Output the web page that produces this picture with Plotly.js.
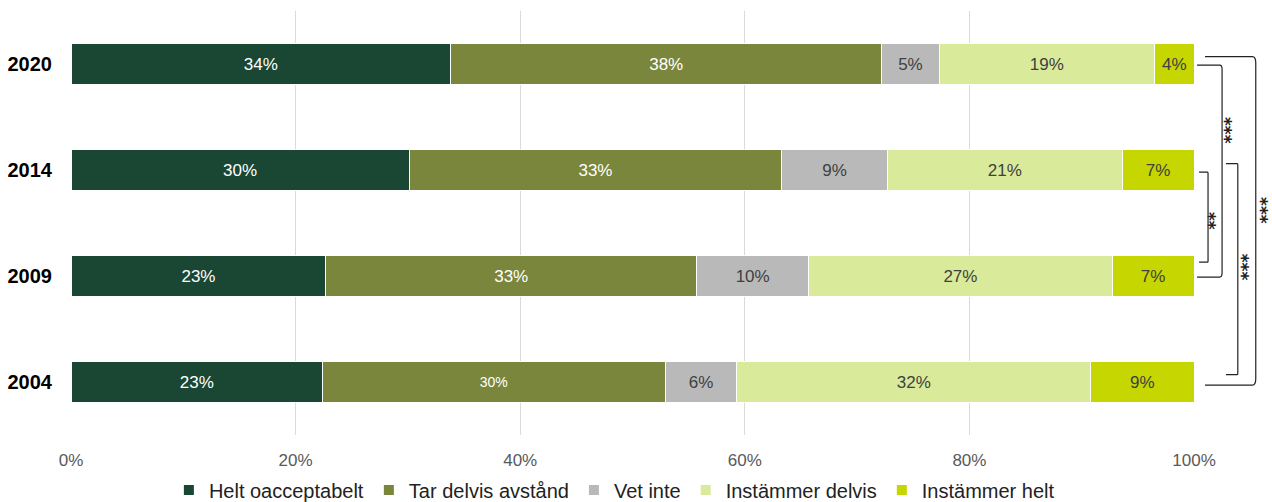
<!DOCTYPE html>
<html>
<head>
<meta charset="utf-8">
<script src="https://cdn.plot.ly/plotly-3.0.1.min.js"></script>
<style>html,body{margin:0;padding:0;background:#fff;}#chart{width:1272px;height:502px;}</style>
</head>
<body>
<div id="chart"></div>
<script>
const years = ['2020', '2014', '2009', '2004'];
const seriesNames = ['Helt oacceptabelt', 'Tar delvis avstånd', 'Vet inte', 'Instämmer delvis', 'Instämmer helt'];
const heltOacceptabelt = [33.8, 30.1, 22.7, 22.4];
const tarDelvisAvstand = [38.4, 33.2, 33.0, 30.5];
const vetInte = [5.1, 9.4, 10.0, 6.4];
const instammerDelvis = [19.2, 20.9, 27.0, 31.5];
const instammerHelt = [3.5, 6.4, 7.3, 9.2];
const labelsHelt = ['34%', '30%', '23%', '23%'];
const labelsTar = ['38%', '33%', '33%', '30%'];
const labelsVet = ['5%', '9%', '10%', '6%'];
const labelsInstDelvis = ['19%', '21%', '27%', '32%'];
const labelsInstHelt = ['4%', '7%', '7%', '9%'];
const xTickVals = [0, 20, 40, 60, 80, 100];
const xTickText = ['0%', '20%', '40%', '60%', '80%', '100%'];

const colors = ['#1a4634', '#7a863b', '#b9b9b9', '#d9ea9a', '#c5d600'];
const textColors = ['#ffffff', '#ffffff', '#404040', '#404040', '#404040'];
const values = [heltOacceptabelt, tarDelvisAvstand, vetInte, instammerDelvis, instammerHelt];
const labels = [labelsHelt, labelsTar, labelsVet, labelsInstDelvis, labelsInstHelt];

const traces = seriesNames.map((name, i) => ({
  type: 'bar',
  orientation: 'h',
  name: name,
  y: years,
  x: values[i],
  text: labels[i],
  textposition: 'inside',
  insidetextanchor: 'middle',
  textangle: 0,
  texttemplate: '%{text}',
  textfont: {
    family: 'Liberation Sans, Arial, sans-serif',
    color: textColors[i],
    size: (i === 1) ? [17, 17, 17, 14] : 17
  },
  marker: {color: colors[i], line: {color: '#ffffff', width: 1}},
  hoverinfo: 'skip'
}));

const bracketLine = {color: '#222222', width: 1.2};
function bracket(x0, x1, y0, y1, rx, ry) {
  return {
    type: 'path', xref: 'paper', yref: 'y', layer: 'above',
    path: `M ${x0},${y0} L ${x1 - rx},${y0} Q ${x1},${y0} ${x1},${y0 + ry} L ${x1},${y1 - ry} Q ${x1},${y1} ${x1 - rx},${y1} L ${x0},${y1}`,
    line: bracketLine
  };
}

const shapes = [
  bracket(1.0027, 1.025, 0.01, 2.01, 0.002, 0.04),
  bracket(1.0045, 1.0125, 1.02, 1.87, 0.0005, 0.01),
  bracket(1.0285, 1.039, 0.94, 2.93, 0.0005, 0.01),
  bracket(1.0098, 1.055, -0.07, 3.03, 0.003, 0.06)
];

function stars(x, y, txt) {
  return {xref: 'paper', yref: 'y', x: x, y: y, text: txt, showarrow: false,
    textangle: 90, font: {family: 'DejaVu Sans, sans-serif', size: 17, color: '#222222', weight: 'bold'},
    xanchor: 'center', yanchor: 'middle'};
}
const annotations = [
  stars(1.0275, 0.63, '***'),
  stars(1.0133, 1.48, '**'),
  stars(1.0435, 1.92, '***'),
  stars(1.059, 1.38, '***')
];

const layout = {
  width: 1272, height: 502,
  margin: {l: 71, r: 78, t: 11, b: 67},
  barmode: 'stack',
  bargap: 0.61,
  paper_bgcolor: '#ffffff',
  plot_bgcolor: '#ffffff',
  font: {family: 'Liberation Sans, Arial, sans-serif'},
  xaxis: {
    range: [0, 100], tickvals: xTickVals, ticktext: xTickText,
    showgrid: true, gridcolor: '#d9d9d9', gridwidth: 1, zeroline: false,
    showline: false, ticks: 'outside', ticklen: 10, tickcolor: 'rgba(0,0,0,0)',
    tickfont: {size: 17, color: '#595959'}, fixedrange: true
  },
  yaxis: {
    autorange: 'reversed', type: 'category', categoryorder: 'array', categoryarray: years,
    showgrid: false, zeroline: false, showline: false, ticks: 'outside', ticklen: 14, tickcolor: 'rgba(0,0,0,0)',
    tickfont: {size: 20, color: '#000000', family: 'Liberation Sans, Arial, sans-serif', weight: 'bold'},
    fixedrange: true
  },
  legend: {
    orientation: 'h', x: 0.483, xanchor: 'center', xref: 'container',
    y: 0.024, yanchor: 'middle', yref: 'container',
    font: {size: 20, color: '#222222'}, traceorder: 'normal',
    itemwidth: 30, itemsizing: 'constant', tracegroupgap: 0
  },
  shapes: shapes,
  annotations: annotations,
  showlegend: true
};

Plotly.newPlot('chart', traces, layout, {displayModeBar: false, staticPlot: true});
</script>
</body>
</html>
